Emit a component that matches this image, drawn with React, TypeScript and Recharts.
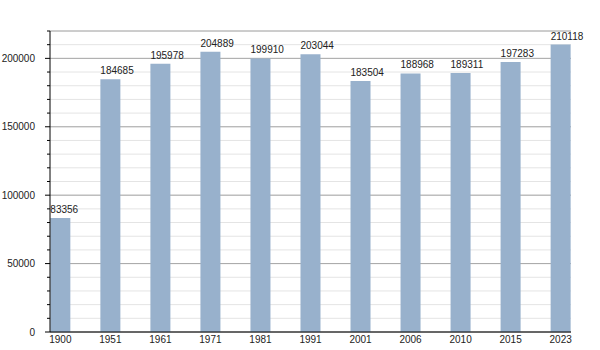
import React from 'react';
import { BarChart, Bar, XAxis, YAxis, CartesianGrid } from 'recharts';

const years = ['1900', '1951', '1961', '1971', '1981', '1991', '2001', '2006', '2010', '2015', '2023'];
const population = [83356, 184685, 195978, 204889, 199910, 203044, 183504, 188968, 189311, 197283, 210118];
const minorTicks = [0, 10000, 20000, 30000, 40000, 50000, 60000, 70000, 80000, 90000, 100000, 110000, 120000, 130000, 140000, 150000, 160000, 170000, 180000, 190000, 200000, 210000, 220000];
const majorTicks = [0, 50000, 100000, 150000, 200000];

const data = years.map((y, i) => ({ idx: i, year: y, pop: population[i] }));
const xTicks = years.map((_, i) => i);

const FONT = '"Liberation Sans", Arial, sans-serif';

const YTick = (props: any) => {
  const { x, y, payload } = props;
  const major = payload.value % 50000 === 0;
  return (
    <g>
      <line x1={x - (major ? 5 : 3)} x2={x} y1={y} y2={y} stroke="#000" strokeWidth={1} />
      {major && (
        <text x={x - 15} y={y} dy="0.355em" textAnchor="end" fontSize={10} fill="#222" fontFamily={FONT}>
          {payload.value}
        </text>
      )}
    </g>
  );
};

const BarLabel = (props: any) => {
  const { x, y, value } = props;
  return (
    <text x={x} y={y - 5} textAnchor="start" fontSize={10} fill="#222" fontFamily={FONT}>
      {value}
    </text>
  );
};

export default function App() {
  return (
    <div style={{ position: 'absolute', left: 0, top: 0, width: 600, height: 350, background: '#fff' }}>
      <BarChart width={600} height={350} data={data} margin={{ top: 31, right: 29, bottom: 0, left: 0 }}>
        <CartesianGrid yAxisId="minor" vertical={false} stroke="#e4e4e4" />
        <CartesianGrid yAxisId="major" vertical={false} stroke="#a8a8a8" />
        <XAxis
          type="number"
          dataKey="idx"
          domain={[-0.207, 10.207]}
          allowDataOverflow
          ticks={xTicks}
          interval={0}
          tickFormatter={(v: number) => years[v]}
          tickLine={false}
          tickSize={0}
          tickMargin={4}
          axisLine={{ stroke: '#000' }}
          tick={{ fontSize: 10, fill: '#222', fontFamily: FONT }}
          height={18}
        />
        <YAxis
          yAxisId="minor"
          orientation="left"
          width={50}
          domain={[0, 220000]}
          allowDataOverflow
          ticks={minorTicks}
          interval={0}
          tickLine={false}
          tickSize={0}
          tickMargin={0}
          axisLine={{ stroke: '#000' }}
          tick={<YTick />}
        />
        <YAxis yAxisId="major" orientation="right" hide domain={[0, 220000]} allowDataOverflow ticks={majorTicks} interval={0} />
        <Bar yAxisId="minor" dataKey="pop" fill="#98b1cc" barSize={20} isAnimationActive={false} label={<BarLabel />} />
      </BarChart>
    </div>
  );
}
